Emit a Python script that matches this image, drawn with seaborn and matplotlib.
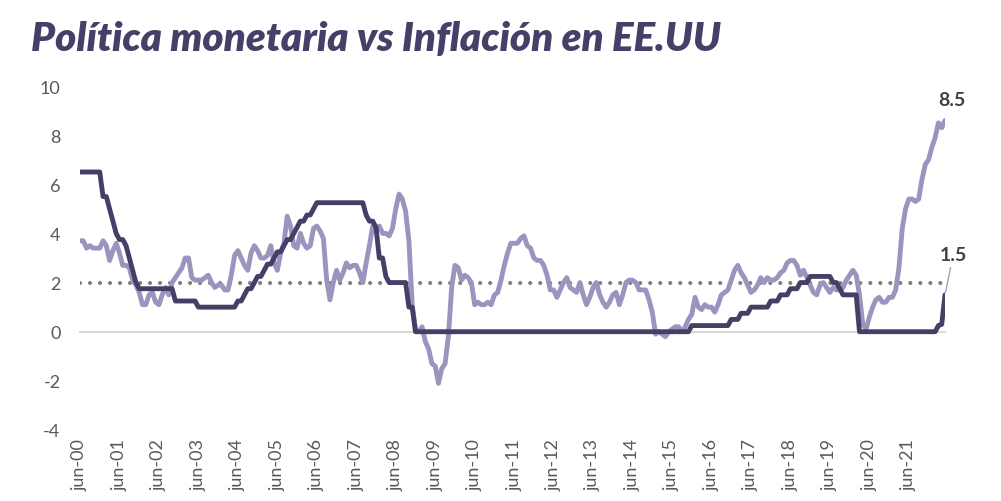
import matplotlib
matplotlib.use("Agg")
import matplotlib.pyplot as plt
import seaborn as sns
import pandas as pd
import numpy as np

# Monthly data, jun-2000 ... may-2022
fed_rate = (
    [6.5] * 7 +
    [5.5, 5.5, 5.0, 4.5, 4.0, 3.75, 3.75, 3.5, 3.0, 2.5, 2.0, 1.75] +
    [1.75] * 10 + [1.25, 1.25] +
    [1.25] * 5 + [1.0] * 7 +
    [1.0] * 5 + [1.25, 1.25, 1.5, 1.75, 1.75, 2.0, 2.25] +
    [2.25, 2.5, 2.75, 2.75, 3.0, 3.25, 3.25, 3.5, 3.75, 3.75, 4.0, 4.25] +
    [4.5, 4.5, 4.75, 4.75, 5.0, 5.25] + [5.25] * 6 +
    [5.25] * 8 + [4.75, 4.5, 4.5, 4.25] +
    [3.0, 3.0, 2.25, 2.0, 2.0, 2.0, 2.0, 2.0, 2.0, 1.0, 1.0, 0.0] +
    [0.0] * 72 +
    [0.0] * 11 + [0.25] +
    [0.25] * 11 + [0.5] +
    [0.5, 0.5, 0.75, 0.75, 0.75, 1.0, 1.0, 1.0, 1.0, 1.0, 1.0, 1.25] +
    [1.25, 1.25, 1.5, 1.5, 1.5, 1.75, 1.75, 1.75, 2.0, 2.0, 2.0, 2.25] +
    [2.25] * 6 + [2.0, 2.0, 1.75, 1.5, 1.5, 1.5] +
    [1.5, 1.5] + [0.0] * 10 +
    [0.0] * 12 +
    [0.0, 0.0, 0.25, 0.3, 1.5]
)

inflation = [
    3.7, 3.7, 3.4, 3.5, 3.4, 3.4, 3.4,
    3.7, 3.5, 2.9, 3.3, 3.6, 3.2, 2.7, 2.7, 2.6, 2.1, 1.9, 1.6,
    1.1, 1.1, 1.5, 1.6, 1.2, 1.1, 1.5, 1.8, 1.5, 2.0, 2.2, 2.4,
    2.6, 3.0, 3.0, 2.2, 2.1, 2.1, 2.1, 2.2, 2.3, 2.0, 1.8, 1.9,
    1.9, 1.7, 1.7, 2.3, 3.1, 3.3, 3.0, 2.7, 2.5, 3.2, 3.5, 3.3,
    3.0, 3.0, 3.1, 3.5, 2.8, 2.5, 3.2, 3.6, 4.7, 4.3, 3.5, 3.4,
    4.0, 3.6, 3.4, 3.5, 4.2, 4.3, 4.1, 3.8, 2.1, 1.3, 2.0, 2.5,
    2.1, 2.4, 2.8, 2.6, 2.7, 2.7, 2.4, 2.0, 2.8, 3.5, 4.3, 4.1,
    4.3, 4.0, 4.0, 3.9, 4.2, 5.0, 5.6, 5.4, 4.9, 3.7, 1.1, 0.1,
    0.0, 0.2, -0.4, -0.7, -1.3, -1.4, -2.1, -1.5, -1.3, -0.2, 1.8, 2.7,
    2.6, 2.1, 2.3, 2.2, 2.0, 1.1, 1.2, 1.1, 1.1, 1.2, 1.1, 1.5,
    1.6, 2.1, 2.7, 3.2, 3.6, 3.6, 3.6, 3.8, 3.9, 3.5, 3.4, 3.0,
    2.9, 2.9, 2.7, 2.3, 1.7, 1.7, 1.4, 1.7, 2.0, 2.2, 1.8, 1.7,
    1.6, 2.0, 1.5, 1.1, 1.4, 1.8, 2.0, 1.5, 1.2, 1.0, 1.2, 1.5,
    1.6, 1.1, 1.5, 2.0, 2.1, 2.1, 2.0, 1.7, 1.7, 1.7, 1.3, 0.8,
    -0.1, 0.0, -0.1, -0.2, 0.0, 0.1, 0.2, 0.2, 0.0, 0.2, 0.5, 0.7,
    1.4, 1.0, 0.9, 1.1, 1.0, 1.0, 0.8, 1.1, 1.5, 1.6, 1.7, 2.1,
    2.5, 2.7, 2.4, 2.2, 1.9, 1.6, 1.7, 1.9, 2.2, 2.0, 2.2, 2.1,
    2.1, 2.2, 2.4, 2.5, 2.8, 2.9, 2.9, 2.7, 2.3, 2.5, 2.2, 1.9,
    1.6, 1.5, 1.9, 2.0, 1.8, 1.6, 1.8, 1.7, 1.7, 1.8, 2.1, 2.3,
    2.5, 2.3, 1.5, 0.3, 0.1, 0.6, 1.0, 1.3, 1.4, 1.2, 1.2, 1.4,
    1.4, 1.7, 2.6, 4.2, 5.0, 5.4, 5.4, 5.3, 5.4, 6.2, 6.8, 7.0,
    7.5, 7.9, 8.5, 8.3, 8.6,
]

target = 2.0
tick_labels = [f"jun-{y:02d}" for y in range(0, 22)]
end_labels = ["8.5", "1.5"]

n = len(inflation)
idx = np.arange(n)
df = pd.DataFrame({"t": idx, "fed": fed_rate, "cpi": inflation,
                   "target": [target] * n})

DARK = "#453e67"
LIGHT = "#9b94be"

sns.set_theme(style="white")
plt.rcParams["font.family"] = ["Lato", "DejaVu Sans"]

fig = plt.figure(figsize=(10.01, 5.02), dpi=100)
ax = fig.add_axes([80 / 1001, (502 - 431) / 502, (945 - 80) / 1001, (431 - 87) / 502])

sns.lineplot(data=df, x="t", y="target", ax=ax, color="#7f7f7f", linewidth=3.0,
             linestyle=(0, (0.001, 2.4)), dash_capstyle="round", zorder=2)
sns.lineplot(data=df, x="t", y="cpi", ax=ax, color=LIGHT, linewidth=3.5, zorder=3)
sns.lineplot(data=df, x="t", y="fed", ax=ax, color=DARK, linewidth=3.5, zorder=4)

ax.set_xlim(0, n - 1)
ax.set_ylim(-4, 10)
ax.set_yticks(np.arange(-4, 11, 2))
ax.set_yticklabels([str(v) for v in range(-4, 11, 2)])
ax.tick_params(axis="y", length=0, labelsize=13, labelcolor="#595959", pad=14)
ax.set_xlabel("")
ax.set_ylabel("")

for s in ["top", "right", "left"]:
    ax.spines[s].set_visible(False)
ax.spines["bottom"].set_position(("data", 0))
ax.spines["bottom"].set_color("#d9d9d9")
ax.spines["bottom"].set_linewidth(1.5)
ax.spines["bottom"].set_zorder(1)

xt = np.arange(0, n, 12)
ax.set_xticks(xt)
ax.tick_params(axis="x", direction="out", length=5, width=1.5, color="#d9d9d9",
               labelbottom=False)

sec = ax.secondary_xaxis(0)
sec.set_xticks(xt)
sec.set_xticklabels(tick_labels, rotation=90)
sec.tick_params(length=0, labelsize=13, labelcolor="#595959", pad=6)
sec.spines["bottom"].set_visible(False)

ax.annotate(end_labels[0], xy=(n - 1, inflation[-1]), xytext=(5, 9),
            textcoords="offset points", ha="center", va="bottom",
            fontsize=14, fontweight="bold", color="#404040")
ax.annotate(end_labels[1], xy=(n - 1, fed_rate[-1]), xytext=(6, 23),
            textcoords="offset points", ha="center", va="bottom",
            fontsize=14, fontweight="bold", color="#404040",
            arrowprops=dict(arrowstyle="-", color="#a6a6a6", lw=1,
                            shrinkA=1, shrinkB=2))

fig.text(0.031, 0.958, "Política monetaria vs Inflación en EE.UU",
         fontsize=29, fontweight="heavy", fontstyle="italic", color="#463f68",
         va="top", ha="left")

fig.savefig("out.png", dpi=100)
